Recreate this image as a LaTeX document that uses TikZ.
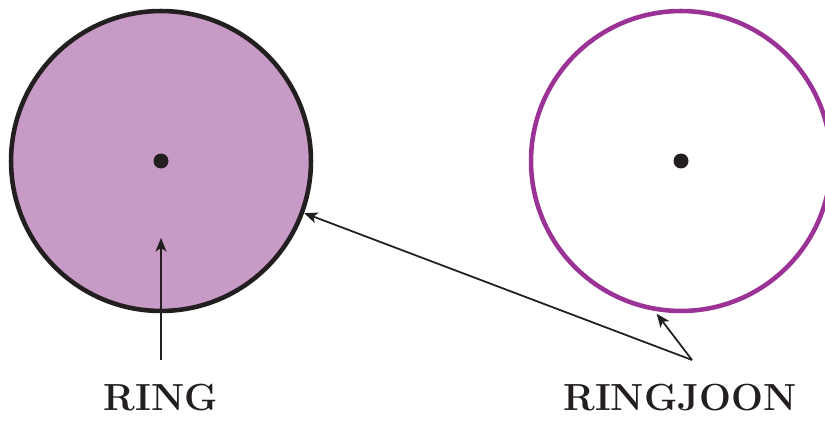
\documentclass[tikz,border=0pt]{standalone}
\usepackage{tikz}
\usetikzlibrary{arrows.meta,positioning}
\definecolor{ringfill}{HTML}{C89AC6}
\definecolor{ringline}{HTML}{231F20}
\definecolor{joonline}{HTML}{9B3396}
\tikzset{
    every node/.style={font=\fontsize{21.5}{26}\selectfont\bfseries},
    disc/.style={circle,minimum size=6cm,inner sep=0pt,line width=2.6pt},
    centre/.style={circle,fill=ringline,minimum size=0.3cm,inner sep=0pt},
    label/.style={text=ringline,inner sep=0pt,anchor=base},
    pointer/.style={draw=ringline,line width=1pt,-{Stealth[length=0.27cm,width=0.22cm,inset=0.07cm]}}
}
\begin{document}
\begin{tikzpicture}[x=0.02cm,y=-0.02cm]
\useasboundingbox (0,0) rectangle (825,422);
% the two circles
\node[disc,draw=ringline,fill=ringfill] (ring) at (161,161) {};
\node[disc,draw=joonline] (ringjoon) at (681,161) {};
\node[centre] (ringdot) at (ring.center) {};
\node[centre] (joondot) at (ringjoon.center) {};
% labels
\node[label] (ringlab) at (161,410) {RING};
\node[label] (joonlab) at (680,410) {RINGJOON};
\coordinate (ringfoot) at (161,360);
\coordinate (joonfoot) at (692,360);
\coordinate (ringpt) at (161,238);
% pointers
\draw[pointer] (ringfoot) -- (ringpt);
\draw[pointer] (joonfoot) -- (ring.-20);
\draw[pointer,shorten >=2pt] (joonfoot) -- (ringjoon.-100);
\end{tikzpicture}
\end{document}
